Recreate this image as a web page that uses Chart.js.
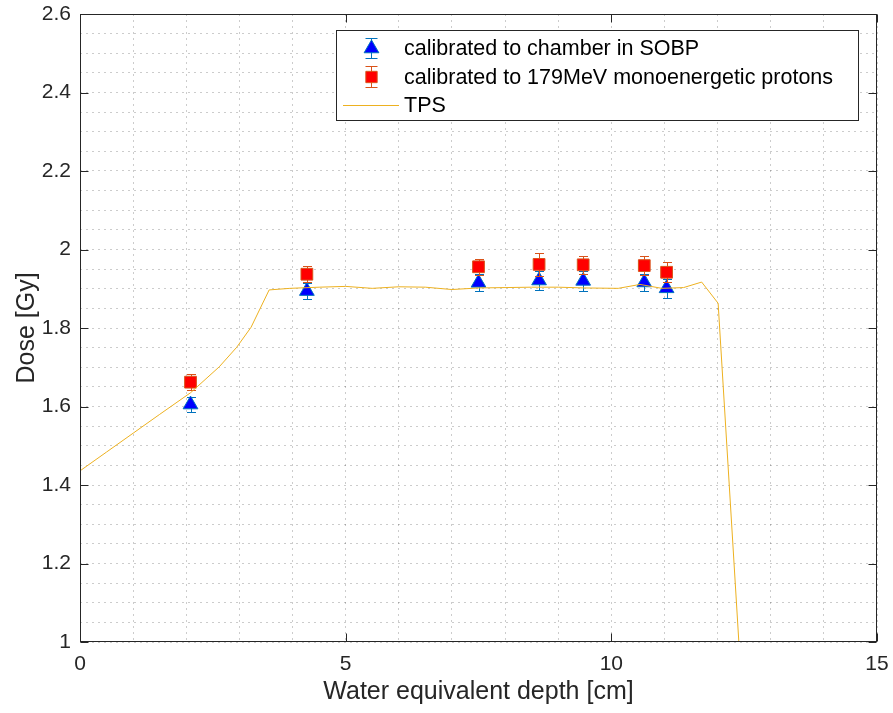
<!DOCTYPE html>
<html><head><meta charset="utf-8">
<script src="https://cdn.jsdelivr.net/npm/chart.js@4.4.0/dist/chart.umd.min.js"></script>
<style>html,body{margin:0;padding:0;background:#fff}#wrap{width:893px;height:713px}</style>
</head><body><div id="wrap"><canvas id="c" width="893" height="713"></canvas></div>
<script>
// ---- data ----
const depth = [2.08, 4.27, 7.50, 8.64, 9.47, 10.62, 11.04];
const doseChamber = [1.605, 1.894, 1.915, 1.921, 1.920, 1.916, 1.901];
const errChamber  = [0.020, 0.020, 0.022, 0.024, 0.025, 0.022, 0.024];
const doseMono = [1.662, 1.937, 1.956, 1.962, 1.961, 1.959, 1.942];
const errMono  = [0.020, 0.021, 0.021, 0.030, 0.023, 0.024, 0.025];
const tpsDepth = [0, 0.5, 1.0, 1.5, 2.08, 2.62, 2.95, 3.22, 3.56, 3.95, 4.5, 5.0, 5.5, 6.0, 6.5, 7.0, 7.5, 8.0, 8.5, 9.0, 9.5, 10.13, 10.54, 10.95, 11.36, 11.70, 12.01, 12.40];
const tpsDose  = [1.436, 1.484, 1.532, 1.580, 1.635, 1.701, 1.751, 1.802, 1.897, 1.901, 1.904, 1.906, 1.901, 1.905, 1.904, 1.898, 1.902, 1.903, 1.904, 1.904, 1.902, 1.901, 1.911, 1.901, 1.903, 1.917, 1.863, 1.0];
const seriesNames = ['calibrated to chamber in SOBP', 'calibrated to 179MeV monoenergetic protons', 'TPS'];
const xTicksMajor = [0, 5, 10, 15];
const yTicksMajor = [1, 1.2, 1.4, 1.6, 1.8, 2, 2.2, 2.4, 2.6];
const xTitle = 'Water equivalent depth [cm]';
const yTitle = 'Dose [Gy]';

const FONT = "'Liberation Sans', Arial, Helvetica, sans-serif";
const AX = '#262626';
const BLUE_FACE = '#0000ff', BLUE_LINE = '#0072BD';
const RED_FACE = '#ff0000', RED_LINE = '#D95319';
const TPS_COL = '#EDB120';

const isMajor = (v, arr) => arr.some(m => Math.abs(m - v) < 1e-6);

const plugin = {
  id: 'matlabStyle',
  beforeDatasetDraw(chart, args) {
    const ds = chart.data.datasets[args.index];
    if (!ds.errors) return;
    const xs = chart.scales.x, ys = chart.scales.y, ctx = chart.ctx;
    ctx.save();
    ctx.strokeStyle = ds.errorColor; ctx.lineWidth = 1;
    ds.data.forEach((p, i) => {
      const px = Math.round(xs.getPixelForValue(p.x)) + 0.5;
      const t = Math.round(ys.getPixelForValue(p.y + ds.errors[i])) + 0.5;
      const b = Math.round(ys.getPixelForValue(p.y - ds.errors[i])) + 0.5;
      ctx.beginPath();
      ctx.moveTo(px, t); ctx.lineTo(px, b);
      ctx.moveTo(px - 4.5, t); ctx.lineTo(px + 4.5, t);
      ctx.moveTo(px - 4.5, b); ctx.lineTo(px + 4.5, b);
      ctx.stroke();
    });
    ctx.restore();
  },
  afterDraw(chart) {
    const ctx = chart.ctx, a = chart.chartArea;
    const xs = chart.scales.x, ys = chart.scales.y;
    ctx.save();
    // box
    ctx.strokeStyle = AX; ctx.lineWidth = 1;
    const L = Math.round(a.left) + 0.5, R = Math.round(a.right) - 0.5, T = Math.round(a.top) + 0.5, B = Math.round(a.bottom) - 0.5;
    ctx.strokeRect(L, T, R - L, B - T);
    // inward major ticks
    ctx.beginPath();
    xTicksMajor.forEach(v => {
      const px = Math.round(xs.getPixelForValue(v)) + 0.5;
      ctx.moveTo(px, B); ctx.lineTo(px, B - 8);
      ctx.moveTo(px, T); ctx.lineTo(px, T + 8);
    });
    yTicksMajor.forEach(v => {
      const py = Math.round(ys.getPixelForValue(v)) + 0.5;
      ctx.moveTo(L, py); ctx.lineTo(L + 8, py);
      ctx.moveTo(R, py); ctx.lineTo(R - 8, py);
    });
    ctx.stroke();
    // legend
    const lx = 336.5, ly = 30.5, lw = 522, lh = 90;
    ctx.fillStyle = '#fff';
    ctx.fillRect(lx, ly, lw, lh);
    ctx.strokeStyle = AX; ctx.strokeRect(lx, ly, lw, lh);
    const rows = [48.5, 77, 105];
    const mx = 371.5;
    // row 1: blue triangle w/ errorbar
    ctx.strokeStyle = BLUE_LINE;
    ctx.beginPath();
    ctx.moveTo(mx, 38.5); ctx.lineTo(mx, 58.5);
    ctx.moveTo(mx - 6, 38.5); ctx.lineTo(mx + 6, 38.5);
    ctx.moveTo(mx - 6, 58.5); ctx.lineTo(mx + 6, 58.5);
    ctx.stroke();
    ctx.fillStyle = BLUE_FACE; ctx.strokeStyle = BLUE_LINE; ctx.lineWidth = 1;
    Chart.helpers.drawPoint(ctx, {pointStyle: 'triangle', radius: 8.5, rotation: 0, borderWidth: 1}, mx, rows[0]);
    // row 2: red square w/ errorbar
    ctx.strokeStyle = RED_LINE;
    ctx.beginPath();
    ctx.moveTo(mx, 66.5); ctx.lineTo(mx, 87.5);
    ctx.moveTo(mx - 6, 66.5); ctx.lineTo(mx + 6, 66.5);
    ctx.moveTo(mx - 6, 87.5); ctx.lineTo(mx + 6, 87.5);
    ctx.stroke();
    ctx.fillStyle = RED_FACE; ctx.strokeStyle = RED_LINE;
    Chart.helpers.drawPoint(ctx, {pointStyle: 'rect', radius: 8, rotation: 0, borderWidth: 1}, mx, rows[1]);
    // row 3: TPS line
    ctx.strokeStyle = TPS_COL; ctx.lineWidth = 1;
    ctx.beginPath(); ctx.moveTo(343, rows[2] + 0.5); ctx.lineTo(399, rows[2] + 0.5); ctx.stroke();
    // texts
    ctx.fillStyle = '#000';
    ctx.font = '21.5px ' + FONT;
    ctx.textBaseline = 'middle'; ctx.textAlign = 'left';
    seriesNames.forEach((s, i) => ctx.fillText(s, 404, rows[i] + 1));
    ctx.restore();
  }
};

new Chart(document.getElementById('c'), {
  type: 'scatter',
  data: {
    datasets: [
      { label: seriesNames[2], data: tpsDepth.map((x, i) => ({x, y: tpsDose[i]})), showLine: true,
        borderColor: TPS_COL, borderWidth: 1, pointRadius: 0, fill: false, order: 0, tension: 0 },
      { label: seriesNames[1], data: depth.map((x, i) => ({x, y: doseMono[i]})), errors: errMono, errorColor: RED_LINE,
        pointStyle: 'rect', pointRadius: 8.3, backgroundColor: RED_FACE, borderColor: RED_LINE, borderWidth: 1, order: 1 },
      { label: seriesNames[0], data: depth.map((x, i) => ({x, y: doseChamber[i]})), errors: errChamber, errorColor: BLUE_LINE,
        pointStyle: 'triangle', pointRadius: 8.5, backgroundColor: BLUE_FACE, borderColor: BLUE_LINE, borderWidth: 1, order: 2 }
    ]
  },
  options: {
    responsive: false, animation: false, devicePixelRatio: 1,
    layout: { padding: { top: 14, right: 16, left: 0, bottom: 0 } },
    plugins: { legend: { display: false }, tooltip: { enabled: false } },
    scales: {
      x: {
        type: 'linear', min: 0, max: 15,
        afterFit(s) { s.height = 71; s.paddingLeft = 0; s.paddingRight = 0; },
        ticks: { stepSize: 1, autoSkip: false, maxRotation: 0, padding: 10, color: AX,
          font: { family: FONT, size: 21 },
          callback: v => isMajor(v, xTicksMajor) ? String(v) : '' },
        grid: { color: 'rgba(0,0,0,0.2)', lineWidth: 1, drawTicks: false },
        border: { display: false, dash: [2, 4] },
        title: { display: true, text: xTitle, color: AX, font: { family: FONT, size: 25 }, padding: { top: 0, bottom: 6 } }
      },
      y: {
        type: 'linear', min: 1, max: 2.6,
        afterFit(s) { s.width = 80; s.paddingTop = 0; s.paddingBottom = 0; },
        afterBuildTicks(s) { const t = []; for (let i = 0; i <= 32; i++) t.push({ value: Math.round((1 + i * 0.05) * 100) / 100 }); s.ticks = t; },
        ticks: { autoSkip: false, padding: 9, color: AX,
          font: { family: FONT, size: 21 },
          callback: v => isMajor(v, yTicksMajor) ? String(Math.round(v * 10) / 10) : '' },
        grid: { color: 'rgba(0,0,0,0.2)', lineWidth: 1, drawTicks: false },
        border: { display: false, dash: [2, 4] },
        title: { display: true, text: yTitle, color: AX, font: { family: FONT, size: 25 }, padding: { top: 12, bottom: 0 } }
      }
    }
  },
  plugins: [plugin]
});
</script>
</body></html>
